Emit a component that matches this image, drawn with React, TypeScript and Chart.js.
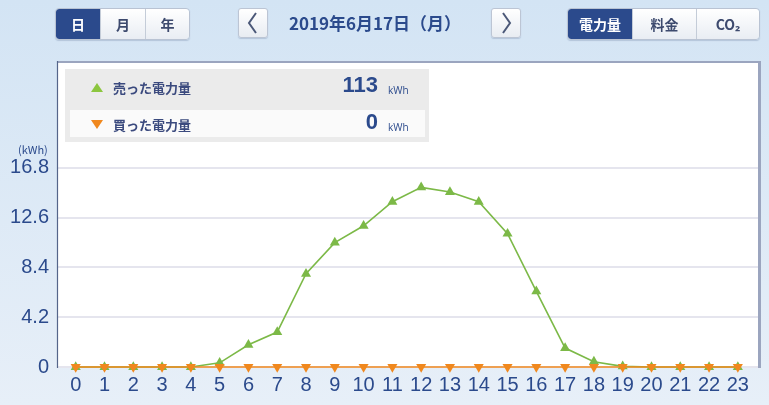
import React, { useEffect, useRef } from "react";
import { Chart, registerables } from "chart.js";

Chart.register(...registerables);

const hours = [0, 1, 2, 3, 4, 5, 6, 7, 8, 9, 10, 11, 12, 13, 14, 15, 16, 17, 18, 19, 20, 21, 22, 23];
const soldKWh = [0, 0, 0, 0, 0, 0.35, 1.88, 2.95, 7.87, 10.5, 11.92, 13.95, 15.16, 14.77, 13.95, 11.25, 6.38, 1.6, 0.45, 0.05, 0, 0, 0, 0];
const boughtKWh = [0, 0, 0, 0, 0, 0, 0, 0, 0, 0, 0, 0, 0, 0, 0, 0, 0, 0, 0, 0, 0, 0, 0, 0];
const yTicks = [0, 4.2, 8.4, 12.6, 16.8];
const soldTotal = "113";
const boughtTotal = "0";
const dateLabel = "2019年6月17日（月）";
const periodButtons = ["日", "月", "年"];
const modeButtons = ["電力量", "料金", "CO₂"];

const BLUE = "#2b4a8c";
const GREEN = "#7cb947";
const ORANGE = "#f0881e";
const NARROW = "'Liberation Sans Narrow', 'Liberation Sans', Arial, sans-serif";
const CJK = "'Noto Sans CJK JP', 'Noto Sans', sans-serif";

const plotFrame = {
  id: "plotFrame",
  beforeDraw(chart: any) {
    const { ctx, chartArea: a } = chart;
    ctx.save();
    ctx.fillStyle = "#ffffff";
    ctx.fillRect(a.left, a.top, a.right - a.left, a.bottom - a.top);
    ctx.restore();
  },
  afterDraw(chart: any) {
    const { ctx, chartArea: a } = chart;
    ctx.save();
    ctx.strokeStyle = "#9ba5bf";
    ctx.lineWidth = 2;
    ctx.beginPath();
    ctx.moveTo(a.left, a.top + 1);
    ctx.lineTo(a.right + 1, a.top + 1);
    ctx.stroke();
    ctx.lineWidth = 3;
    ctx.beginPath();
    ctx.moveTo(a.right + 1.5, a.top);
    ctx.lineTo(a.right + 1.5, a.bottom + 1);
    ctx.stroke();
    ctx.strokeStyle = "#55658a";
    ctx.lineWidth = 1.2;
    ctx.beginPath();
    ctx.moveTo(a.left + 0.5, a.top);
    ctx.lineTo(a.left + 0.5, a.bottom + 1);
    ctx.stroke();
    ctx.restore();
  },
};

function Btn({ label, active, width, first, last }: any) {
  return (
    <div
      style={{
        width,
        height: 30,
        boxSizing: "border-box",
        display: "flex",
        alignItems: "center",
        justifyContent: "center",
        background: active ? BLUE : "linear-gradient(#ffffff, #e9edf3)",
        color: active ? "#ffffff" : "#3d4a6e",
        fontFamily: CJK,
        fontWeight: 700,
        fontSize: 14,
        borderLeft: first ? "none" : "1px solid #c4ccd8",
        borderTopLeftRadius: first ? 3 : 0,
        borderBottomLeftRadius: first ? 3 : 0,
        borderTopRightRadius: last ? 3 : 0,
        borderBottomRightRadius: last ? 3 : 0,
      }}
    >
      {label}
    </div>
  );
}

function Group({ items, left, widths }: any) {
  return (
    <div
      style={{
        position: "absolute",
        left,
        top: 8,
        display: "flex",
        border: "1px solid #b9c3d3",
        borderRadius: 4,
        boxShadow: "0 1px 1px rgba(80,100,140,0.25)",
        overflow: "hidden",
      }}
    >
      {items.map((t: string, i: number) => (
        <Btn key={t} label={t} active={i === 0} width={widths[i]} first={i === 0} last={i === items.length - 1} />
      ))}
    </div>
  );
}

function Arrow({ left, dir }: any) {
  return (
    <div
      style={{
        position: "absolute",
        left,
        top: 8,
        width: 30,
        height: 30,
        boxSizing: "border-box",
        border: "1px solid #bcc5d4",
        borderRadius: 3,
        background: "linear-gradient(#ffffff, #e8ecf2)",
        boxShadow: "0 1px 1px rgba(80,100,140,0.25)",
      }}
    >
      <svg width={28} height={28} style={{ position: "absolute", left: 0, top: 0 }}>
        <polyline
          points={dir === "l" ? "17,4 10,14 17,24" : "11,4 18,14 11,24"}
          fill="none"
          stroke="#4b5878"
          strokeWidth={2}
        />
      </svg>
    </div>
  );
}

export default function App() {
  const ref = useRef<HTMLCanvasElement | null>(null);

  useEffect(() => {
    document.body.style.margin = "0";
    if (!ref.current) return;
    const chart = new Chart(ref.current, {
      type: "line",
      data: {
        datasets: [
          {
            label: "買った電力量",
            data: hours.map((h, i) => ({ x: h, y: boughtKWh[i] })),
            borderColor: ORANGE,
            backgroundColor: ORANGE,
            borderWidth: 1.6,
            pointStyle: "triangle",
            pointRotation: 180,
            pointRadius: 5.8,
            pointBorderWidth: 0,
            pointBackgroundColor: ORANGE,
            clip: false as any,
          },
          {
            label: "売った電力量",
            data: hours.map((h, i) => ({ x: h, y: soldKWh[i] })),
            borderColor: GREEN,
            backgroundColor: GREEN,
            borderWidth: 1.6,
            pointStyle: "triangle",
            pointRadius: 5.8,
            pointBorderWidth: 0,
            pointBackgroundColor: GREEN,
            clip: false as any,
          },
        ],
      },
      options: {
        animation: false,
        responsive: false,
        maintainAspectRatio: false,
        layout: { padding: { top: 61, right: 11, left: 0, bottom: 0 } },
        plugins: { legend: { display: false }, tooltip: { enabled: false } },
        scales: {
          x: {
            type: "linear",
            min: -0.65,
            max: 23.7,
            afterBuildTicks: (axis: any) => {
              axis.ticks = hours.map((v) => ({ value: v }));
            },
            afterFit: (axis: any) => {
              axis.height = 38;
            },
            grid: { display: false, drawTicks: false },
            border: { display: false },
            ticks: {
              color: BLUE,
              font: { family: NARROW, size: 20 },
              padding: 6,
              maxRotation: 0,
              autoSkip: false,
              callback: (v: any) => String(v),
            },
          },
          y: {
            type: "linear",
            min: 0,
            max: 25.83,
            afterBuildTicks: (axis: any) => {
              axis.ticks = yTicks.map((v) => ({ value: v }));
            },
            afterFit: (axis: any) => {
              axis.width = 57;
            },
            grid: { color: "#e5e5ee", lineWidth: 2, drawTicks: false },
            border: { display: false },
            ticks: {
              color: BLUE,
              font: { family: NARROW, size: 20 },
              padding: 8,
              callback: (v: any) => (v === 0 ? "0" : Number(v).toFixed(1)),
            },
          },
        },
      },
      plugins: [plotFrame],
    });
    return () => chart.destroy();
  }, []);

  return (
    <div
      style={{
        position: "fixed",
        left: 0,
        top: 0,
        width: 769,
        height: 405,
        overflow: "hidden",
        background: "linear-gradient(#d3e4f4, #e7eff8)",
      }}
    >
      <canvas ref={ref} width={769} height={405} style={{ position: "absolute", left: 0, top: 0 }} />
      <Group items={periodButtons} left={55} widths={[44, 45, 44]} />
      <Arrow left={238} dir="l" />
      <div
        style={{
          position: "absolute",
          left: 265,
          width: 220,
          top: 8,
          height: 30,
          lineHeight: "30px",
          textAlign: "center",
          color: BLUE,
          fontFamily: CJK,
          fontWeight: 700,
          fontSize: 17,
        }}
      >
        {dateLabel}
      </div>
      <Arrow left={491} dir="r" />
      <Group items={modeButtons} left={567} widths={[64, 64, 63]} />

      <div
        style={{
          position: "absolute",
          left: 18,
          top: 141,
          fontFamily: CJK,
          fontSize: 11,
          color: BLUE,
        }}
      >
        (kWh)
      </div>

      <div
        style={{
          position: "absolute",
          left: 65,
          top: 69,
          width: 364,
          height: 73,
          background: "#ebebeb",
        }}
      >
        <div style={{ position: "absolute", left: 5, top: 41, width: 355, height: 27, background: "#fafafa" }} />
        <svg width={14} height={12} style={{ position: "absolute", left: 25, top: 13 }}>
          <polygon points="7,1 13,10 1,10" fill="#8cc63f" />
        </svg>
        <svg width={14} height={12} style={{ position: "absolute", left: 25, top: 50 }}>
          <polygon points="1,1 13,1 7,10" fill={ORANGE} />
        </svg>
        <div style={{ position: "absolute", left: 48, top: 9, fontFamily: CJK, fontWeight: 700, fontSize: 13, color: "#3b4a7e" }}>
          売った電力量
        </div>
        <div style={{ position: "absolute", left: 48, top: 46, fontFamily: CJK, fontWeight: 700, fontSize: 13, color: "#3b4a7e" }}>
          買った電力量
        </div>
        <div style={{ position: "absolute", right: 51, top: 3, fontFamily: NARROW, fontWeight: 700, fontSize: 22, color: BLUE }}>
          {soldTotal}
        </div>
        <div style={{ position: "absolute", left: 323, top: 14, fontFamily: "'Open Sans', sans-serif", fontSize: 10, color: BLUE }}>
          kWh
        </div>
        <div style={{ position: "absolute", right: 51, top: 40, fontFamily: NARROW, fontWeight: 700, fontSize: 22, color: BLUE }}>
          {boughtTotal}
        </div>
        <div style={{ position: "absolute", left: 323, top: 51, fontFamily: "'Open Sans', sans-serif", fontSize: 10, color: BLUE }}>
          kWh
        </div>
      </div>
    </div>
  );
}
